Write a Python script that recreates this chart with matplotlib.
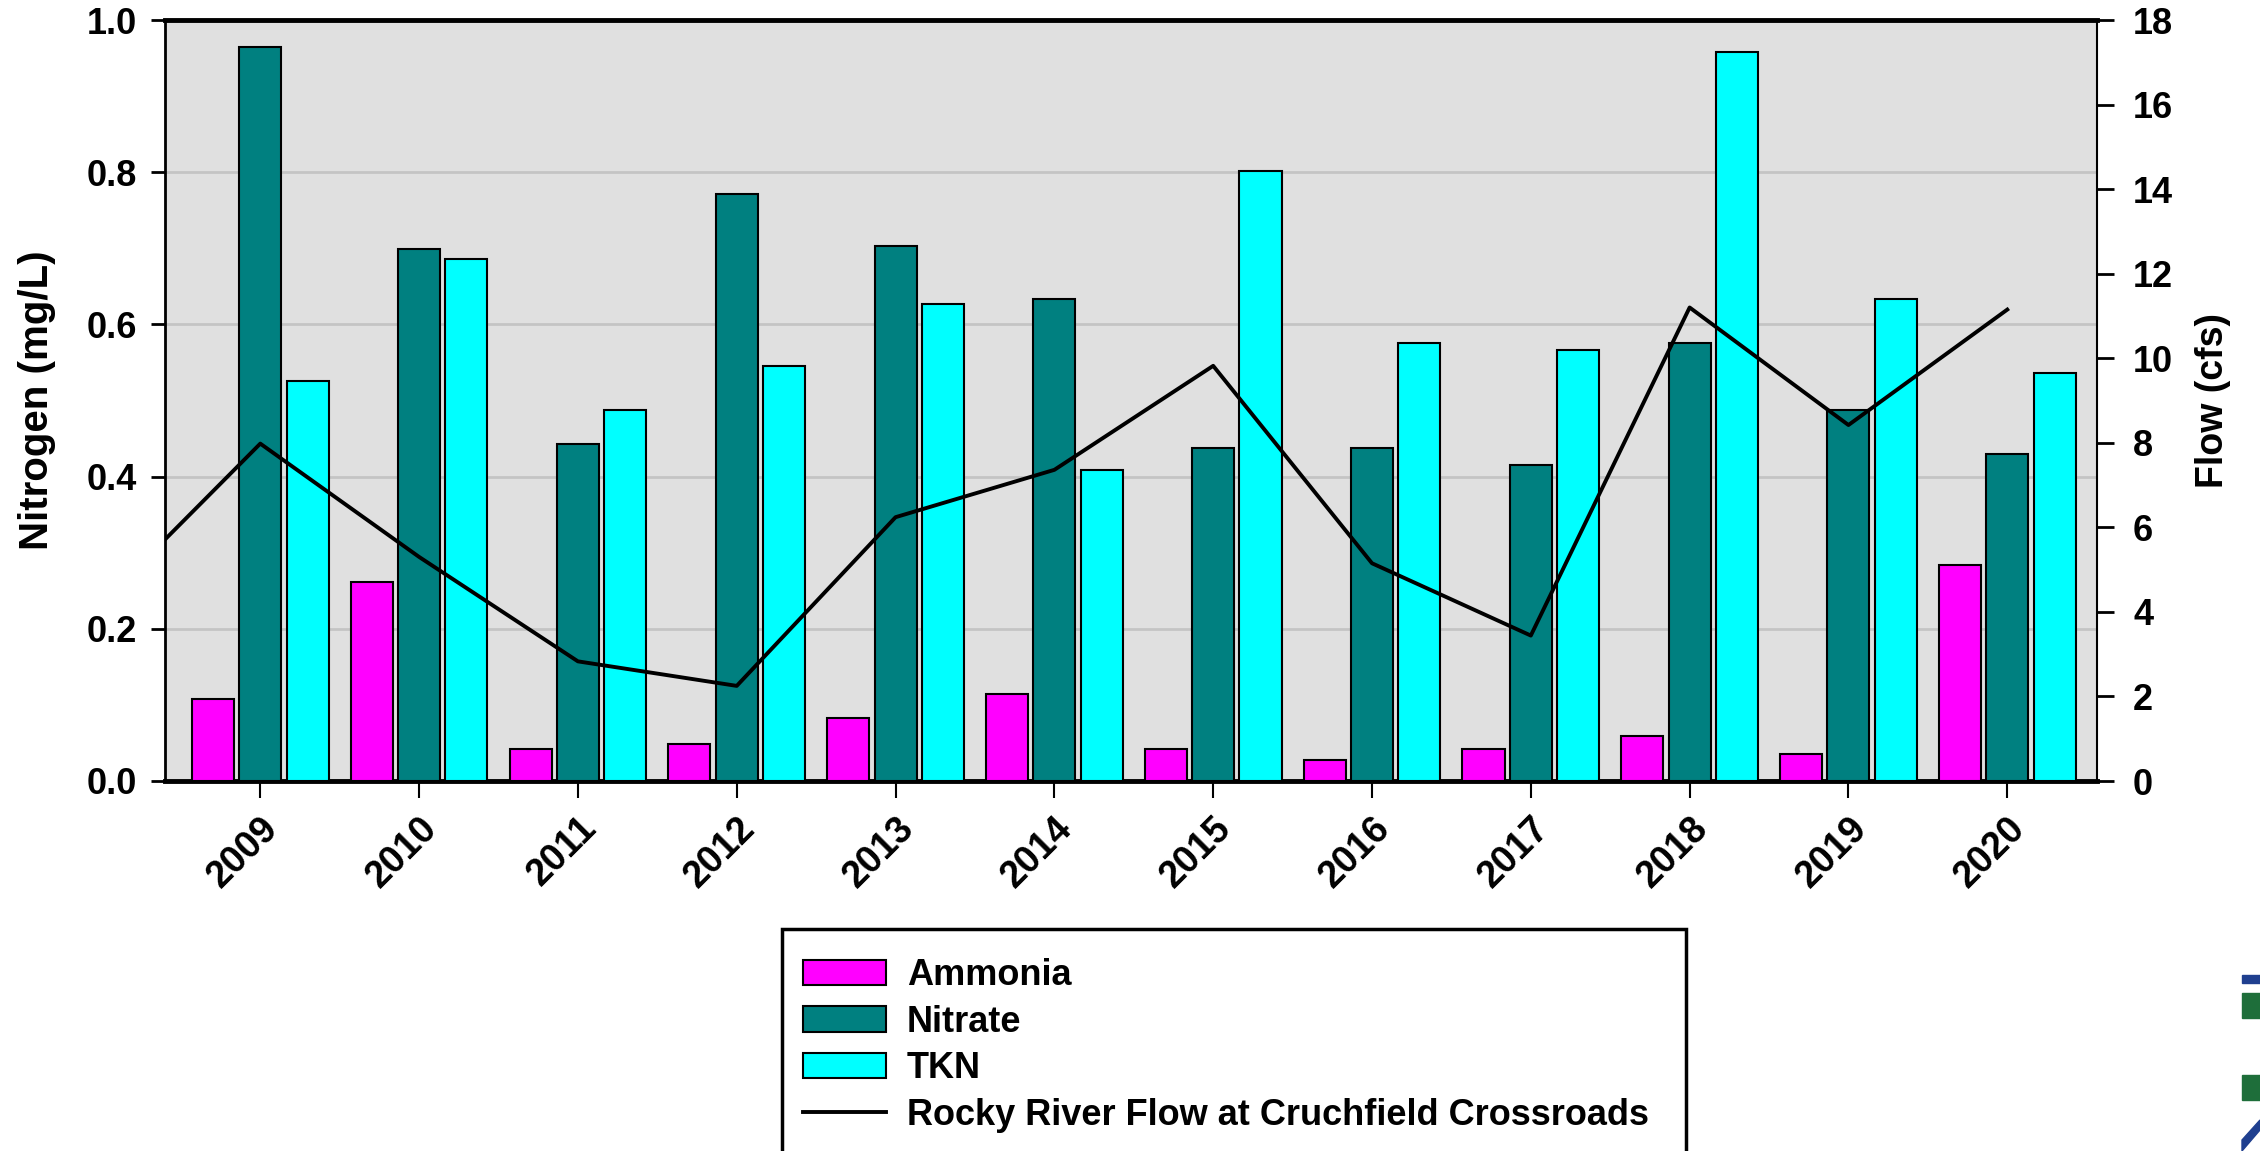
import numpy as np
import matplotlib
matplotlib.use('Agg')
import matplotlib.pyplot as plt
from matplotlib.patches import Rectangle, Patch
from matplotlib.lines import Line2D

plt.rcParams['font.family'] = ['Liberation Sans', 'DejaVu Sans']

years = ['2009', '2010', '2011', '2012', '2013', '2014',
         '2015', '2016', '2017', '2018', '2019', '2020']
ammonia = [0.108, 0.261, 0.042, 0.049, 0.083, 0.114,
           0.042, 0.028, 0.042, 0.059, 0.036, 0.284]
nitrate = [0.964, 0.699, 0.443, 0.771, 0.703, 0.633,
           0.438, 0.437, 0.415, 0.576, 0.487, 0.430]
tkn = [0.525, 0.686, 0.487, 0.545, 0.627, 0.409,
       0.801, 0.575, 0.566, 0.958, 0.634, 0.536]
# flow starts one year before the first bar group (clipped at the left edge)
flow_years = ['2008'] + years
flow = [4.2, 7.98, 5.3, 2.83, 2.25, 6.24, 7.36,
        9.82, 5.15, 3.44, 11.2, 8.42, 11.15]

W, H = 2260, 1151
fig = plt.figure(figsize=(W / 100, H / 100), dpi=100)
ax = fig.add_axes([165 / W, 1 - 781 / H, (2097 - 165) / W, (781 - 20) / H])
ax.set_facecolor('#e0e0e0')

x = np.arange(len(years))
w = 0.265
off = 0.298
ax.bar(x - off, ammonia, w, color='#ff00ff', edgecolor='black', linewidth=1.5, zorder=3)
ax.bar(x, nitrate, w, color='#008080', edgecolor='black', linewidth=1.5, zorder=3)
ax.bar(x + off, tkn, w, color='#00ffff', edgecolor='black', linewidth=1.5, zorder=3)

ax.set_xlim(-0.6, 11.565)
ax.set_ylim(0, 1.0)
ax.set_yticks(np.arange(0, 1.01, 0.2))
ax.set_yticklabels([f'{v:.1f}' for v in np.arange(0, 1.01, 0.2)])
ax.yaxis.grid(True, color='#c4c4c4', linewidth=2, zorder=0)
ax.set_axisbelow(True)
ax.set_xticks(x)
ax.set_xticklabels(years, rotation=45, ha='right', rotation_mode='anchor',
                   fontsize=27, fontweight='bold')
ax.tick_params(axis='x', length=12, width=1.5, pad=9)
ax.tick_params(axis='y', length=10, width=2, pad=10, labelsize=26)
for lab in ax.get_yticklabels():
    lab.set_fontweight('bold')
ax.set_ylabel('Nitrogen (mg/L)', fontsize=29, fontweight='bold', labelpad=22)

ax.spines['top'].set_linewidth(3.5)
ax.spines['bottom'].set_linewidth(3.5)
ax.spines['left'].set_linewidth(2)
ax.spines['right'].set_linewidth(1.5)

ax2 = ax.twinx()
ax2.plot(np.arange(-1, len(years)), flow, color='black', linewidth=2.8, zorder=5)
ax2.set_ylim(0, 18)
ax2.set_yticks(np.arange(0, 19, 2))
ax2.tick_params(axis='y', length=12, width=2, pad=14, labelsize=26)
for lab in ax2.get_yticklabels():
    lab.set_fontweight('bold')
ax2.set_ylabel('Flow (cfs)', fontsize=27, fontweight='bold', labelpad=16)
for s in ax2.spines.values():
    s.set_visible(False)

# legend box (runs off the bottom of the canvas)
fig.patches.append(Rectangle((782 / W, -0.05), (1686 - 782) / W, 0.05 + 1 - 929 / H,
                             transform=fig.transFigure, facecolor='white',
                             edgecolor='black', linewidth=2.5))
handles = [Patch(facecolor='#ff00ff', edgecolor='black', linewidth=1.5),
           Patch(facecolor='#008080', edgecolor='black', linewidth=1.5),
           Patch(facecolor='#00ffff', edgecolor='black', linewidth=1.5),
           Line2D([0], [0], color='black', linewidth=2.8)]
labels = ['Ammonia', 'Nitrate', 'TKN', 'Rocky River Flow at Cruchfield Crossroads']
fig.legend(handles, labels, loc='upper left', bbox_to_anchor=(803 / W, 1 - 958 / H),
           bbox_transform=fig.transFigure, frameon=False, borderpad=0, borderaxespad=0,
           prop={'size': 26, 'weight': 'bold'}, handlelength=2.3, handleheight=0.72,
           handletextpad=0.58, labelspacing=0.32)

# logo fragment at right edge
for (y0, y1, c) in [(975, 983, '#1f3f8f'), (993, 1018, '#1e6e3a'), (1075, 1100, '#1e6e3a')]:
    fig.patches.append(Rectangle((2242 / W, 1 - y1 / H), 18 / W, (y1 - y0) / H,
                                 transform=fig.transFigure, color=c))
fig.patches.append(plt.Polygon([(2242 / W, 1 - 1140 / H), (2260 / W, 1 - 1120 / H),
                                (2260 / W, 1 - 1130 / H), (2242 / W, 1 - 1151 / H)],
                               transform=fig.transFigure, color='#1f3f8f'))

fig.savefig('out.png', dpi=100)
